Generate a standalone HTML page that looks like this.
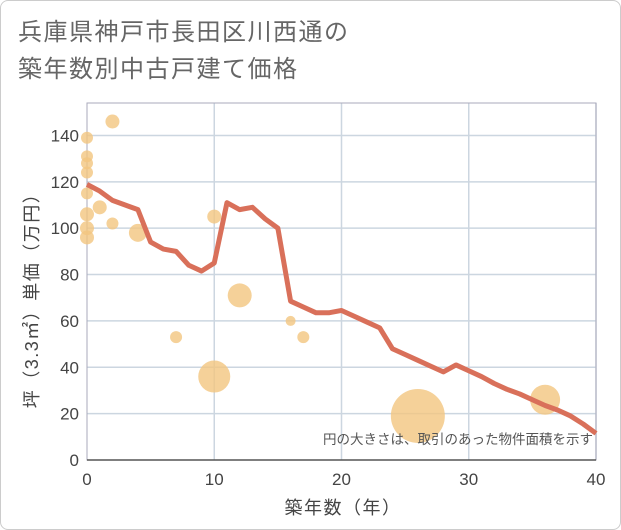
<!DOCTYPE html>
<html><head><meta charset="utf-8"><style>
body{margin:0;background:#fff;font-family:"Liberation Sans","Noto Sans CJK JP",sans-serif}
.wrap{position:relative;width:619px;height:528px;border:1px solid #ccc;border-radius:8px;background:#fff;overflow:hidden}
</style></head><body>
<div class="wrap">
<svg id="c" width="621" height="530" style="position:absolute;left:-1px;top:-1px">
<text x="18" y="40" font-size="24" letter-spacing="1.5" fill="#666">兵庫県神戸市長田区川西通の</text>
<text x="18" y="77" font-size="24" letter-spacing="1.5" fill="#666">築年数別中古戸建て価格</text>
</svg>
</div>
<script>
const xTicks=[0,10,20,30,40];
const yTicks=[0,20,40,60,80,100,120,140];
const lineX=[0,1,2,3,4,5,6,7,8,9,10,11,12,13,14,15,16,17,18,19,20,21,22,23,24,25,26,27,28,29,30,31,32,33,34,35,36,37,38,39,40];
const lineY=[118.9,116,112,110,108,94,91,90,84,81.5,85,111,108,109,104,100,68.5,66,63.5,63.5,64.5,62,59.5,57,48,45.5,43,40.5,38,41,38.5,36,33,30.5,28.5,26,23.5,21.5,19,15.5,11.5];
const bubX=[0,0,0,0,0,0,0,0,1,2,2,4,7,10,10,12,16,17,26,36];
const bubY=[139,131,128,124,115,106,100,96,109,146,102,98,53,105,36,71,60,53,19,26];
const bubR=[6,6,6,6,6,7,7,7,7,7,6,9,6,7,16,12,5,6,27,15];
const L=87,R=596,T=103,B=460;
const sx=v=>L+(R-L)*v/40, sy=v=>B-(B-T)*v/154;
const svg=document.getElementById('c');const ns='http://www.w3.org/2000/svg';
function mk(t,a,p){const e=document.createElementNS(ns,t);for(const k in a)e.setAttribute(k,a[k]);(p||svg).appendChild(e);return e;}
const grid=mk('g',{});


yTicks.forEach(v=>{if(v>0)mk('line',{x1:L,x2:R,y1:sy(v),y2:sy(v),stroke:'#ccd6e0','stroke-width':1.5},grid);
const t=mk('text',{x:L-8,y:sy(v)+6,'text-anchor':'end','font-size':17,fill:'#444'});t.textContent=v;

});
xTicks.forEach(v=>{if(v>0)mk('line',{x1:sx(v),x2:sx(v),y1:T,y2:B,stroke:'#ccd6e0','stroke-width':1.5},grid);
const t=mk('text',{x:sx(v),y:B+25,'text-anchor':'middle','font-size':17,fill:'#444'});t.textContent=v;

});
mk('rect',{x:L,y:T,width:R-L,height:B-T,fill:'none',stroke:'#aab','stroke-width':1});
mk('line',{x1:L,x2:R,y1:B,y2:B,stroke:'#555','stroke-width':1.5});
bubX.forEach((x,i)=>{const c=mk('circle',{cx:sx(x),cy:sy(bubY[i]),r:bubR[i],fill:'#f3c57f','fill-opacity':0.8});

});
const p=mk('polyline',{points:lineX.map((x,i)=>sx(x)+','+sy(lineY[i])).join(' '),fill:'none',stroke:'#d9705a','stroke-width':5,'stroke-linejoin':'round'});


const n=mk('text',{x:593,y:444,'text-anchor':'end','font-size':13.5,fill:'#555'});n.textContent='円の大きさは、取引のあった物件面積を示す';


const xt=mk('text',{x:343,y:514,'text-anchor':'middle','font-size':18,'letter-spacing':1.5,fill:'#444'});xt.textContent='築年数（年）';


const yt=mk('text',{x:0,y:0,'text-anchor':'middle','font-size':18,'letter-spacing':1.5,fill:'#444',transform:'translate(38,296) rotate(-90)'});yt.textContent='坪（3.3㎡）単価（万円）';


</script>
</body></html>
